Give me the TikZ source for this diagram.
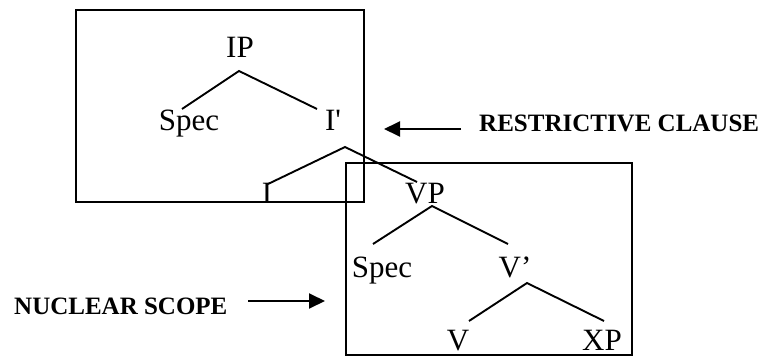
\documentclass[tikz,border=0pt]{standalone}
\usepackage{fontspec}
\newfontfamily\tr{Liberation Serif}
\usetikzlibrary{arrows.meta}
\begin{document}
\begin{tikzpicture}[x=1pt,y=-1pt,
  lbl/.style={font=\tr\fontsize{31}{32}\selectfont, inner sep=0pt, anchor=base},
  note/.style={font=\tr\fontsize{25}{26}\selectfont\bfseries, inner sep=0pt, anchor=base west},
  edge/.style={line width=1.9pt},
  boxln/.style={line width=2pt},
  arr/.style={line width=1.9pt, -{Triangle[length=16pt,width=15pt]}}]
\useasboundingbox (0,0) rectangle (762,356);
% boxes
\draw[boxln] (76,10) rectangle (364,202);
\draw[boxln] (346,163) rectangle (632,354.5);
% labels
\node[lbl] (IP) at (240,57) {IP};
\node[lbl] (SpecA) at (189,130) {Spec};
\node[lbl] (Ib) at (333,130) {I'};
\node[lbl] (I) at (267,203) {I};
\node[lbl] (VP) at (425,203) {VP};
\node[lbl] (SpecB) at (382,277) {Spec};
\node[lbl] (Vb) at (515,277) {V’};
\node[lbl] (V) at (458,350) {V};
\node[lbl] (XP) at (602,350) {XP};
\node[note] (RC) at (479,131) {RESTRICTIVE CLAUSE};
\node[note] (NS) at (14,314.5) {NUCLEAR SCOPE};
% edge end points
\coordinate (IPa) at (239,71);
\coordinate (SpecAt) at (182,109);
\coordinate (Ibt) at (317,109);
\coordinate (Iba) at (345,147);
\coordinate (It) at (268,184);
\coordinate (VPt) at (417,182);
\coordinate (VPa) at (432,206);
\coordinate (SpecBt) at (373,244);
\coordinate (Vbt) at (508,244);
\coordinate (Vba) at (527,283);
\coordinate (Vt) at (469,321);
\coordinate (XPt) at (604,321);
\draw[edge] (SpecAt) -- (IPa) -- (Ibt);
\draw[edge] (It) -- (Iba) -- (VPt);
\draw[edge] (SpecBt) -- (VPa) -- (Vbt);
\draw[edge] (Vt) -- (Vba) -- (XPt);
% arrows
\coordinate (RCs) at (461,129);
\coordinate (RCe) at (384,129);
\coordinate (NSs) at (248,301);
\coordinate (NSe) at (325,301);
\draw[arr] (RCs) -- (RCe);
\draw[arr] (NSs) -- (NSe);
\end{tikzpicture}
\end{document}
